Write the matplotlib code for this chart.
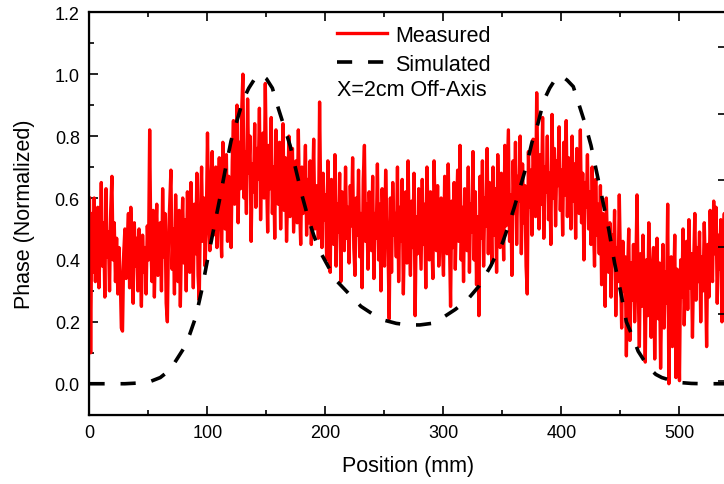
"""Phase vs position: measured scan against simulated profile, X=2cm off-axis."""
import numpy as np
import matplotlib
matplotlib.use("Agg")
import matplotlib.pyplot as plt
from matplotlib.ticker import MultipleLocator

plt.rcParams["font.family"] = ["Liberation Sans", "DejaVu Sans"]

# ---- measured phase, every 1 mm (0..540 mm) ----
measured_pos = np.arange(0, 541, 1)
measured = [
    0.60, 0.10, 0.55, 0.36, 0.60, 0.33, 0.48, 0.57, 0.31, 0.45, 0.65, 0.38, 0.52, 0.28, 0.63, 0.41, 0.49, 0.30, 0.56, 0.67,
    0.40, 0.52, 0.33, 0.47, 0.29, 0.44, 0.36, 0.18, 0.17, 0.42, 0.50, 0.34, 0.46, 0.55, 0.31, 0.57, 0.43, 0.26, 0.52, 0.38,
    0.47, 0.30, 0.50, 0.41, 0.25, 0.48, 0.36, 0.44, 0.29, 0.51, 0.40, 0.82, 0.45, 0.33, 0.56, 0.28, 0.47, 0.58, 0.35, 0.43,
    0.52, 0.30, 0.63, 0.41, 0.55, 0.26, 0.20, 0.48, 0.58, 0.69, 0.37, 0.50, 0.29, 0.61, 0.44, 0.33, 0.56, 0.25, 0.47, 0.60,
    0.39, 0.53, 0.30, 0.62, 0.45, 0.36, 0.65, 0.50, 0.31, 0.58, 0.42, 0.68, 0.35, 0.27, 0.55, 0.70, 0.46, 0.60, 0.38, 0.52,
    0.81, 0.55, 0.43, 0.66, 0.75, 0.48, 0.60, 0.70, 0.44, 0.58, 0.73, 0.52, 0.41, 0.78, 0.63, 0.50, 0.74, 0.46, 0.67, 0.55,
    0.44, 0.72, 0.85, 0.58, 0.66, 0.90, 0.52, 0.78, 0.63, 0.88, 1.00, 0.60, 0.75, 0.55, 0.92, 0.68, 0.80, 0.46, 0.71, 0.62,
    0.84, 0.57, 0.76, 0.66, 0.89, 0.53, 0.72, 0.81, 0.60, 0.97, 0.68, 0.49, 0.77, 0.63, 0.86, 0.55, 0.70, 0.47, 0.82, 0.64,
    0.58, 0.78, 0.50, 0.69, 0.84, 0.56, 0.73, 0.46, 0.62, 0.80, 0.54, 0.67, 0.76, 0.49, 0.60, 0.72, 0.52, 0.82, 0.58, 0.45,
    0.70, 0.55, 0.63, 0.77, 0.48, 0.66, 0.52, 0.72, 0.45, 0.60, 0.79, 0.50, 0.64, 0.56, 0.47, 0.91, 0.58, 0.44, 0.68, 0.53,
    0.61, 0.40, 0.72, 0.50, 0.36, 0.66, 0.55, 0.45, 0.74, 0.38, 0.58, 0.49, 0.68, 0.33, 0.62, 0.52, 0.43, 0.70, 0.47, 0.57,
    0.39, 0.64, 0.51, 0.73, 0.44, 0.35, 0.60, 0.48, 0.69, 0.41, 0.55, 0.31, 0.66, 0.77, 0.46, 0.58, 0.37, 0.62, 0.50, 0.43,
    0.67, 0.34, 0.55, 0.47, 0.71, 0.40, 0.58, 0.30, 0.63, 0.49, 0.38, 0.69, 0.52, 0.44, 0.21, 0.60, 0.36, 0.65, 0.48, 0.55,
    0.41, 0.70, 0.33, 0.57, 0.46, 0.66, 0.29, 0.52, 0.62, 0.39, 0.72, 0.48, 0.35, 0.59, 0.44, 0.68, 0.22, 0.54, 0.42, 0.63,
    0.50, 0.37, 0.66, 0.45, 0.58, 0.31, 0.70, 0.53, 0.40, 0.62, 0.47, 0.34, 0.72, 0.55, 0.43, 0.64, 0.38, 0.51, 0.60, 0.46,
    0.35, 0.67, 0.52, 0.42, 0.71, 0.48, 0.25, 0.59, 0.44, 0.65, 0.37, 0.55, 0.69, 0.46, 0.77, 0.40, 0.57, 0.33, 0.63, 0.50,
    0.43, 0.70, 0.36, 0.58, 0.49, 0.75, 0.40, 0.62, 0.32, 0.54, 0.22, 0.67, 0.47, 0.72, 0.38, 0.60, 0.51, 0.76, 0.42, 0.65,
    0.56, 0.39, 0.70, 0.48, 0.63, 0.36, 0.74, 0.53, 0.44, 0.68, 0.58, 0.40, 0.77, 0.51, 0.66, 0.82, 0.46, 0.61, 0.35, 0.72,
    0.55, 0.78, 0.45, 0.67, 0.59, 0.80, 0.42, 0.71, 0.52, 0.64, 0.38, 0.29, 0.75, 0.57, 0.69, 0.48, 0.79, 0.61, 0.54, 0.94,
    0.66, 0.50, 0.74, 0.58, 0.86, 0.47, 0.70, 0.62, 0.80, 0.53, 0.68, 0.45, 0.87, 0.60, 0.76, 0.51, 0.72, 0.64, 0.83, 0.56,
    0.69, 0.48, 0.78, 0.61, 0.85, 0.54, 0.73, 0.66, 0.50, 0.80, 0.59, 0.71, 0.47, 0.76, 0.63, 0.55, 0.82, 0.52, 0.68, 0.40,
    0.65, 0.57, 0.74, 0.50, 0.62, 0.45, 0.70, 0.53, 0.38, 0.66, 0.48, 0.58, 0.42, 0.64, 0.32, 0.55, 0.47, 0.25, 0.60, 0.44,
    0.36, 0.52, 0.28, 0.48, 0.40, 0.56, 0.22, 0.44, 0.33, 0.61, 0.38, 0.18, 0.46, 0.30, 0.41, 0.09, 0.35, 0.50, 0.14, 0.39,
    0.27, 0.45, 0.20, 0.36, 0.61, 0.31, 0.12, 0.42, 0.25, 0.48, 0.34, 0.07, 0.40, 0.22, 0.52, 0.29, 0.15, 0.38, 0.44, 0.08,
    0.33, 0.47, 0.21, 0.39, 0.05, 0.30, 0.45, 0.18, 0.36, 0.26, 0.58, 0.00, 0.34, 0.41, 0.12, 0.29, 0.48, 0.02, 0.37, 0.23,
    0.01, 0.40, 0.28, 0.50, 0.19, 0.35, 0.46, 0.24, 0.53, 0.31, 0.42, 0.15, 0.38, 0.55, 0.27, 0.44, 0.33, 0.49, 0.20, 0.41,
    0.30, 0.52, 0.36, 0.12, 0.45, 0.28, 0.56, 0.39, 0.33, 0.59, 0.42, 0.57, 0.26, 0.48, 0.37, 0.53, 0.20, 0.44, 0.55, 0.31,
    0.46,
]

# ---- simulated phase profile ----
sim_pos = [0, 10, 20, 30, 40, 50, 60, 65, 70, 75, 80, 85, 90, 95, 100, 105, 110, 115, 120,
           125, 130, 135, 140, 145, 150, 155, 160, 165, 170, 175, 180, 185, 190, 195, 200,
           205, 210, 220, 230, 240, 250, 260, 270, 280, 290, 300, 310, 320, 330, 340, 345,
           350, 355, 360, 365, 370, 375, 380, 385, 390, 395, 400, 405, 410, 415, 420, 425,
           430, 435, 440, 445, 450, 455, 460, 465, 470, 475, 480, 485, 490, 500, 510, 520,
           530, 540]
simulated = [0.0, 0.0, 0.0, 0.0, 0.002, 0.005, 0.02, 0.035, 0.055, 0.085, 0.115, 0.16, 0.215,
             0.30, 0.40, 0.495, 0.59, 0.69, 0.785, 0.85, 0.915, 0.955, 0.985, 1.0, 0.985,
             0.955, 0.89, 0.83, 0.77, 0.69, 0.61, 0.54, 0.48, 0.43, 0.395, 0.36, 0.33, 0.29,
             0.25, 0.225, 0.205, 0.195, 0.19, 0.19, 0.195, 0.215, 0.24, 0.27, 0.315, 0.38,
             0.42, 0.455, 0.51, 0.57, 0.635, 0.70, 0.78, 0.84, 0.915, 0.955, 0.985, 0.995,
             0.98, 0.96, 0.90, 0.84, 0.77, 0.68, 0.59, 0.50, 0.39, 0.30, 0.20, 0.155, 0.105,
             0.075, 0.048, 0.03, 0.02, 0.014, 0.004, 0.001, 0.0, 0.0, 0.0]

note = "X=2cm Off-Axis"

fig = plt.figure(figsize=(7.24, 4.85), dpi=100)
# the original frame runs past the right edge of the picture
ax = fig.add_axes([0.1236, 0.1429, 0.8801, 0.8297])

ax.plot(measured_pos, measured, color="red", lw=2.4, label="Measured")
ax.plot(sim_pos, simulated, color="black", lw=2.6, ls=(0, (4.2, 4.4)), label="Simulated")

ax.set_xlim(0, 540)
ax.set_ylim(-0.1, 1.2)
ax.xaxis.set_major_locator(MultipleLocator(100))
ax.xaxis.set_minor_locator(MultipleLocator(50))
ax.yaxis.set_major_locator(MultipleLocator(0.2))
ax.yaxis.set_minor_locator(MultipleLocator(0.1))
ax.yaxis.set_major_formatter(matplotlib.ticker.FormatStrFormatter("%.1f"))
ax.tick_params(which="both", direction="in", top=True, right=False, width=1.2, labelsize=13, pad=7)
ax.tick_params(which="major", length=6.5)
ax.tick_params(which="minor", length=3.6)
for s in ax.spines.values():
    s.set_linewidth(1.6)

# right-hand axis of the original: only its tick marks are inside the crop
ax2 = ax.twinx()
ax2.set_ylim(-0.51, 5.52)
ax2.set_yticks(range(6))
ax2.tick_params(direction="in", length=6.5, width=1.2, labelright=False)
ax2.spines["right"].set_linewidth(1.6)

ax.set_xlabel("Position (mm)", fontsize=15.5, labelpad=10)
ax.set_ylabel("Phase (Normalized)", fontsize=15.5, labelpad=14)

ax.legend(loc="upper left", bbox_to_anchor=(336.7 / 724, 1 - 26 / 485),
          bbox_transform=fig.transFigure, frameon=False, fontsize=15.5,
          handlelength=2.35, handletextpad=0.35, labelspacing=0.36,
          borderpad=0, borderaxespad=0)
fig.text(336.7 / 724, 1 - 91 / 485, note, fontsize=15.5, ha="left", va="center")

fig.savefig("out.png", dpi=100)
